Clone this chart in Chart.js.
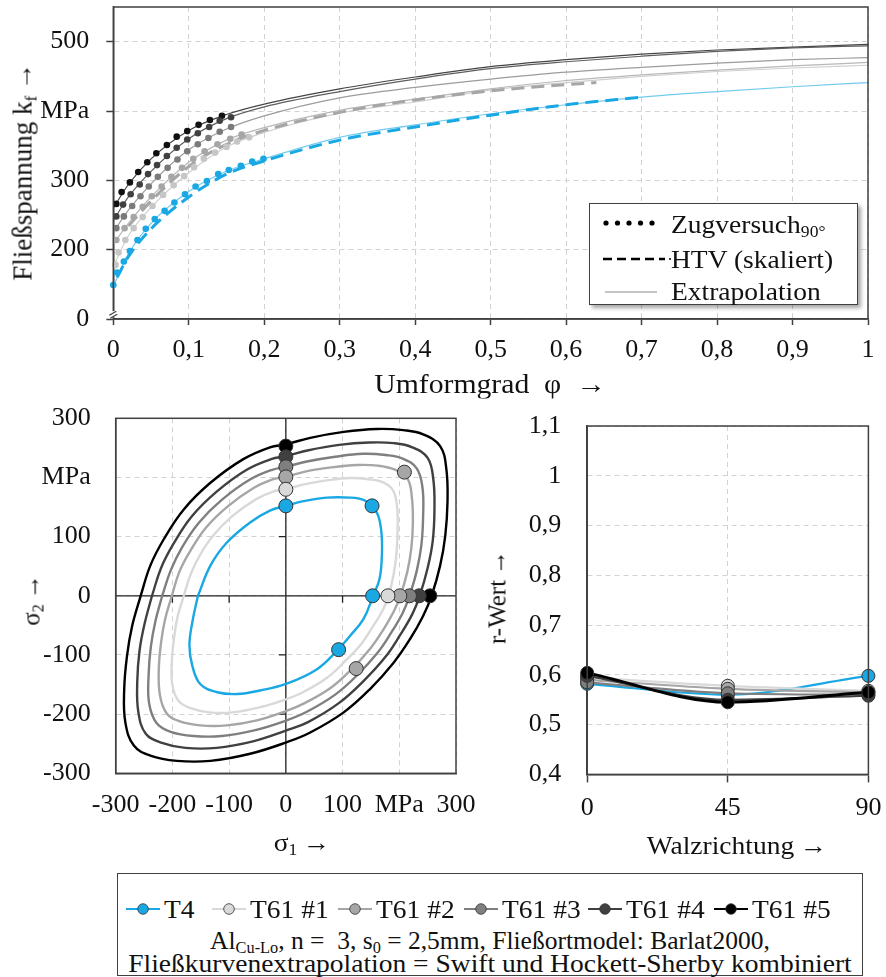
<!DOCTYPE html>
<html lang="de">
<head>
<meta charset="utf-8">
<title>Fließkurven, Fließorte und r-Werte</title>
<script src="https://cdn.jsdelivr.net/npm/chart.js@4.4.1/dist/chart.umd.min.js"></script>
<style>
  html, body { margin: 0; background: #fff; }
  #page { position: relative; width: 886px; height: 977px; overflow: hidden;
          font-family: 'Liberation Serif', 'Times New Roman', serif; color: #111; }
  #page canvas { position: absolute; }
  .lbl { position: absolute; white-space: nowrap; font-size: 25px; line-height: 1; }
  .mid { transform: translate(-50%, -50%) scaleX(1.1); }
  .up  { transform: translate(-50%, -50%) rotate(-90deg); }
  .lft { transform: translateY(-50%) scaleX(1.1); transform-origin: 0 50%; }
  sub { font-size: 0.64em; line-height: 0; vertical-align: -0.28em; }
  .box { position: absolute; background: #fff; border: 1.5px solid #404040; box-sizing: border-box; }
  .box svg { position: absolute; overflow: visible; }
</style>
</head>
<body>
<div id="page">
  <canvas id="flowChart" width="886" height="392" style="left:0;top:0"></canvas>
  <canvas id="locusChart" width="484" height="475" style="left:0;top:395px"></canvas>
  <canvas id="rChart" width="416" height="475" style="left:470px;top:395px"></canvas>

  <div class="lbl up" style="left:23px;top:172px;font-size:27px">Fließspannung k<sub>f</sub>&thinsp;→</div>
  <div class="lbl mid" style="left:490px;top:384px;font-size:27px">Umformgrad&ensp;φ&ensp;→</div>
  <div class="lbl up" style="left:31px;top:600px">σ<sub>2</sub>&thinsp;→</div>
  <div class="lbl mid" style="left:302px;top:842px">σ<sub>1</sub>&thinsp;→</div>
  <div class="lbl up" style="left:497px;top:597px">r-Wert&thinsp;→</div>
  <div class="lbl mid" style="left:737px;top:845px">Walzrichtung&thinsp;→</div>

  <div class="box" id="flowLegend" style="left:589px;top:203px;width:269px;height:102px;box-shadow:3px 3px 4px rgba(0,0,0,.35)">
    <svg style="left:14px;top:19px" width="50" height="1">
      <circle cx="2" cy="0" r="2.6" fill="#000"/><circle cx="13.5" cy="0" r="2.6" fill="#000"/>
      <circle cx="25" cy="0" r="2.6" fill="#000"/><circle cx="36.5" cy="0" r="2.6" fill="#000"/>
      <circle cx="48" cy="0" r="2.6" fill="#000"/>
    </svg>
    <div class="lbl lft" style="left:81px;top:20px">Zugversuch<sub>90°</sub></div>
    <svg style="left:13px;top:55px" width="66" height="1">
      <line x1="0" y1="0" x2="62" y2="0" stroke="#000" stroke-width="2.4" stroke-dasharray="9 5"/>
      <circle cx="67" cy="0" r="1" fill="#000"/>
    </svg>
    <div class="lbl lft" style="left:81px;top:55px">HTV (skaliert)</div>
    <svg style="left:15px;top:88px" width="52" height="1">
      <line x1="0" y1="0" x2="52" y2="0" stroke="#8c8c8c" stroke-width="1.2"/>
    </svg>
    <div class="lbl lft" style="left:81px;top:87px">Extrapolation</div>
  </div>

  <div class="box" id="mainLegend" style="left:117px;top:873px;width:746px;height:103px">
    <div class="lbl" style="left:372px;top:66px;transform:translate(-50%,-50%) scaleX(1.02)">Al<sub>Cu-Lo</sub>, n =&nbsp; 3, s<sub>0</sub> = 2,5mm, Fließortmodel: Barlat2000,</div>
    <div class="lbl mid" style="left:372px;top:89px">Fließkurvenextrapolation = Swift und Hockett-Sherby kombiniert</div>
  </div>
</div>

<script>
// Werkstoffzustände
const seriesNames = ['T4', 'T61 #1', 'T61 #2', 'T61 #3', 'T61 #4', 'T61 #5'];

// ---------- Fließkurven ----------
const phiTicks = [0, 0.1, 0.2, 0.3, 0.4, 0.5, 0.6, 0.7, 0.8, 0.9, 1];
const kfTicks = [100, 200, 300, 400, 500];
const kfTickLabels = ['0', '200', '300', 'MPa', '500'];

// Zugversuch 90° – Messpunkte
const phiZugT4 = [0, 0.005, 0.014, 0.022, 0.032, 0.043, 0.055, 0.068, 0.081, 0.095, 0.109, 0.124, 0.139, 0.153, 0.169, 0.184, 0.199];
const kfZugT4 = [149, 167, 183, 198, 214, 230, 244, 256, 268, 280, 291, 299, 309, 315, 321, 327, 331];
const phiZugT61_1 = [0.003, 0.007, 0.016, 0.027, 0.039, 0.052, 0.066, 0.08, 0.094, 0.107, 0.12, 0.135, 0.15, 0.164, 0.18];
const kfZugT61_1 = [178, 196, 214, 231, 247, 263, 279, 293, 306, 319, 331, 340, 348, 356, 362];
const phiZugT61_2 = [0.004, 0.015, 0.027, 0.039, 0.051, 0.064, 0.077, 0.091, 0.106, 0.121, 0.138, 0.155, 0.17];
const kfZugT61_2 = [214, 231, 247, 262, 277, 291, 305, 318, 331, 342, 352, 360, 366];
const phiZugT61_3 = [0.004, 0.014, 0.025, 0.036, 0.047, 0.059, 0.072, 0.085, 0.098, 0.112, 0.126, 0.141, 0.156];
const kfZugT61_3 = [231, 248, 263, 277, 291, 305, 318, 330, 342, 352, 361, 370, 377];
const phiZugT61_4 = [0.004, 0.013, 0.023, 0.035, 0.046, 0.058, 0.071, 0.084, 0.098, 0.112, 0.127, 0.141, 0.156];
const kfZugT61_4 = [248, 265, 280, 294, 309, 322, 335, 347, 359, 368, 377, 386, 391];
const phiZugT61_5 = [0.004, 0.011, 0.022, 0.033, 0.045, 0.057, 0.071, 0.084, 0.098, 0.113, 0.128, 0.144];
const kfZugT61_5 = [266, 283, 297, 312, 326, 339, 351, 363, 371, 380, 387, 393];

// HTV (skaliert)
const phiHtvT4 = [0.005, 0.02, 0.05, 0.1, 0.15, 0.2, 0.3, 0.4, 0.5, 0.6, 0.7];
const kfHtvT4 = [160, 190, 230, 276, 309, 328, 358, 377, 394, 409, 420];
const phiHtvT61_2 = [0.02, 0.05, 0.1, 0.15, 0.2, 0.3, 0.4, 0.5, 0.6, 0.64];
const kfHtvT61_2 = [234, 270, 320, 352, 372, 398, 416, 429, 438, 441];

// Extrapolation
const phiExtra = [0, 0.02, 0.05, 0.1, 0.15, 0.2, 0.3, 0.4, 0.5, 0.6, 0.7, 0.8, 0.9, 1];
const kfExtraT4 = [147, 194, 238, 284, 313, 331, 362, 380, 396, 409, 420, 428, 435, 441];
const kfExtraT61_1 = [176, 220, 261, 311, 348, 369, 397, 413, 430, 441, 450, 457, 462, 466];
const kfExtraT61_2 = [208, 238, 276, 326, 358, 376, 401, 417, 432, 444, 452, 459, 465, 470];
const kfExtraT61_3 = [225, 257, 295, 344, 374, 393, 419, 434, 446, 456, 463, 469, 474, 477];
const kfExtraT61_4 = [242, 276, 313, 360, 389, 406, 428, 446, 461, 471, 479, 486, 491, 494];
const kfExtraT61_5 = [260, 294, 331, 372, 395, 410, 432, 449, 464, 474, 482, 488, 492, 496];

// ---------- Fließorte (σ1, σ2 in MPa) ----------
const sigmaTicks = [-300, -200, -100, 0, 100, 200, 300];
const sigmaLabels = ['-300', '-200', '-100', '0', '100', 'MPa', '300'];

const locusT4 = [[-155, 0], [-133, 51], [-104, 90], [-63, 124], [-28, 144], [0, 152], [31, 160], [72, 166], [113, 166], [137, 162], [151, 152], [163, 135], [169, 101], [169, 62], [165, 28], [154, 0], [137, -39], [113, -68], [92, -91], [55, -124], [0, -149], [-45, -160], [-86, -166], [-121, -163], [-151, -149], [-165, -118], [-170, -84], [-165, -45], [-155, 0]];
const locusT61_1 = [[-180, 0], [-168, 36], [-152, 68], [-127, 103], [-94, 135], [-53, 163], [-20, 177], [0, 180], [30, 188], [72, 195], [113, 199], [146, 197], [171, 192], [189, 178], [196, 151], [197, 111], [195, 71], [190, 36], [181, 0], [171, -24], [154, -51], [134, -80], [104, -111], [72, -139], [30, -163], [0, -175], [-44, -188], [-94, -197], [-135, -197], [-168, -190], [-189, -178], [-200, -151], [-201, -111], [-197, -71], [-191, -36], [-180, 0]];
const locusT61_2 = [[-201, 0], [-188, 40], [-169, 75], [-141, 115], [-104, 150], [-59, 181], [-22, 197], [0, 201], [34, 210], [80, 217], [126, 221], [162, 220], [190, 214], [214, 199], [222, 168], [224, 124], [221, 79], [214, 40], [202, 0], [190, -27], [172, -57], [149, -89], [116, -124], [80, -155], [34, -181], [0, -195], [-49, -210], [-104, -219], [-151, -219], [-188, -212], [-210, -199], [-222, -168], [-224, -124], [-220, -79], [-213, -40], [-201, 0]];
const locusT61_3 = [[-218, 0], [-203, 43], [-183, 82], [-153, 124], [-113, 162], [-64, 196], [-24, 213], [0, 218], [37, 227], [87, 235], [136, 240], [176, 238], [206, 232], [231, 215], [241, 182], [242, 134], [239, 86], [231, 43], [218, 0], [206, -29], [186, -62], [162, -96], [126, -134], [87, -167], [37, -196], [0, -211], [-54, -227], [-113, -237], [-163, -237], [-203, -230], [-228, -215], [-241, -182], [-242, -134], [-238, -86], [-230, -43], [-218, 0]];
const locusT61_4 = [[-236, 0], [-220, 47], [-198, 88], [-166, 134], [-122, 176], [-69, 213], [-26, 231], [0, 236], [40, 246], [94, 255], [147, 259], [190, 258], [223, 251], [250, 233], [260, 197], [262, 145], [259, 93], [250, 47], [236, 0], [223, -31], [201, -67], [175, -104], [136, -145], [94, -181], [40, -213], [0, -228], [-58, -246], [-122, -257], [-177, -257], [-220, -248], [-247, -233], [-260, -197], [-262, -145], [-258, -93], [-249, -47], [-236, 0]];
const locusT61_5 = [[-256, 0], [-239, 51], [-215, 96], [-180, 146], [-133, 191], [-75, 231], [-28, 251], [0, 256], [43, 267], [102, 277], [160, 282], [207, 280], [242, 273], [272, 253], [283, 214], [285, 158], [281, 101], [272, 51], [257, 0], [242, -34], [219, -73], [190, -113], [148, -158], [102, -197], [43, -231], [0, -248], [-63, -267], [-133, -279], [-192, -279], [-239, -270], [-268, -253], [-283, -214], [-285, -158], [-280, -101], [-271, -51], [-256, 0]];

// Versuchspunkte auf den Fließorten
const locusPointsT4 = [[0, 152], [153, 0], [152, 152], [93, -91]];
const locusPointsT61_1 = [[0, 180], [180, 0]];
const locusPointsT61_2 = [[0, 201], [201, 0], [209, 209], [124, -123]];
const locusPointsT61_3 = [[0, 218], [218, 0]];
const locusPointsT61_4 = [[0, 235], [235, 0]];
const locusPointsT61_5 = [[0, 253], [254, 0]];

// ---------- r-Werte ----------
const angleTicks = [0, 45, 90];
const rTicks = [0.4, 0.5, 0.6, 0.7, 0.8, 0.9, 1, 1.1];
const rT4 = [0.582, 0.560, 0.598];
const rT61_1 = [0.595, 0.578, 0.568];
const rT61_2 = [0.590, 0.572, 0.565];
const rT61_3 = [0.585, 0.563, 0.560];
const rT61_4 = [0.598, 0.550, 0.558];
const rT61_5 = [0.604, 0.545, 0.565];

// Farben
const seriesColors = ['#19a8e3', '#d9d9d9', '#a6a6a6', '#7f7f7f', '#404040', '#000000'];
const dotColors = ['#19a8e3', '#c6c6c6', '#a6a6a6', '#7a7a7a', '#404040', '#111111'];
const extraColors = ['#72cbef', '#d0d0d0', '#b8b8b8', '#9c9c9c', '#5e5e5e', '#454545'];

Chart.defaults.font.family = "'Liberation Serif', 'Times New Roman', serif";
Chart.defaults.font.size = 26;
Chart.defaults.color = '#111';

const pts = (xs, ys) => xs.map((x, i) => ({ x: x, y: ys[i] }));
const pairs = list => list.map(p => ({ x: p[0], y: p[1] }));

// feste Achsenbreiten, damit die Plotflächen exakt sitzen
function pinY(width) {
    return s => { s.width = width; s.paddingTop = 0; s.paddingBottom = 0; };
}
function pinX(height) {
    return s => { s.height = height; s.paddingLeft = 0; s.paddingRight = 0; };
}
function setTicks(list) {
    return s => { s.ticks = list.map(v => ({ value: v })); };
}

const gridStyle = { color: '#d2d2d2', lineWidth: 1, tickColor: '#404040', tickWidth: 1.5, tickBorderDash: [] };
const borderStyle = { color: '#404040', width: 1.5, dash: [5, 4] };
const baseOptions = {
    responsive: false,
    animation: false,
    events: [],
    plugins: { legend: { display: false }, tooltip: { enabled: false } }
};

// Rahmen um die Plotfläche
const framePlugin = {
    id: 'frame',
    afterDraw(chart) {
        const { ctx, chartArea: a } = chart;
        ctx.save();
        ctx.strokeStyle = '#404040';
        ctx.lineWidth = 1.5;
        ctx.strokeRect(a.left, a.top, a.right - a.left, a.bottom - a.top);
        ctx.restore();
    }
};

// Achsenbruch unten an der kf-Achse
const axisBreak = {
    id: 'axisBreak',
    afterDraw(chart) {
        const { ctx } = chart;
        const x = chart.chartArea.left;
        const y = chart.scales.y.getPixelForValue(107);
        ctx.save();
        ctx.fillStyle = '#fff';
        ctx.fillRect(x - 3, y - 3, 6, 6);
        ctx.strokeStyle = '#404040';
        ctx.lineWidth = 1.2;
        ctx.beginPath();
        ctx.moveTo(x - 4, y + 1); ctx.lineTo(x + 3, y - 3);
        ctx.moveTo(x - 3, y + 4); ctx.lineTo(x + 4, y);
        ctx.stroke();
        ctx.restore();
    }
};

// Koordinatenachsen durch den Ursprung mit kleinen Strichen
const zeroAxes = {
    id: 'zeroAxes',
    beforeDatasetsDraw(chart) {
        const { ctx, chartArea: a, scales: { x, y } } = chart;
        const x0 = x.getPixelForValue(0);
        const y0 = y.getPixelForValue(0);
        ctx.save();
        ctx.strokeStyle = '#222';
        ctx.lineWidth = 1.3;
        ctx.beginPath();
        ctx.moveTo(x0, a.top); ctx.lineTo(x0, a.bottom);
        ctx.moveTo(a.left, y0); ctx.lineTo(a.right, y0);
        sigmaTicks.forEach(v => {
            if (v === 0 || Math.abs(v) === 300) return;
            const px = x.getPixelForValue(v);
            const py = y.getPixelForValue(v);
            ctx.moveTo(px, y0); ctx.lineTo(px, y0 + 7);
            ctx.moveTo(x0, py); ctx.lineTo(x0 - 7, py);
        });
        ctx.stroke();
        ctx.restore();
    }
};

// ---------- Diagramm 1: Fließkurven ----------
const flowSeries = [
    { zugPhi: phiZugT4, zugKf: kfZugT4, extra: kfExtraT4 },
    { zugPhi: phiZugT61_1, zugKf: kfZugT61_1, extra: kfExtraT61_1 },
    { zugPhi: phiZugT61_2, zugKf: kfZugT61_2, extra: kfExtraT61_2 },
    { zugPhi: phiZugT61_3, zugKf: kfZugT61_3, extra: kfExtraT61_3 },
    { zugPhi: phiZugT61_4, zugKf: kfZugT61_4, extra: kfExtraT61_4 },
    { zugPhi: phiZugT61_5, zugKf: kfZugT61_5, extra: kfExtraT61_5 }
];

const flowDatasets = [];
flowSeries.forEach((s, i) => {
    flowDatasets.push({
        label: seriesNames[i] + ' Extrapolation',
        data: pts(phiExtra, s.extra),
        showLine: true, borderColor: extraColors[i], borderWidth: 1.2,
        pointRadius: 0, cubicInterpolationMode: 'monotone', order: 3
    });
    flowDatasets.push({
        label: seriesNames[i] + ' Zugversuch',
        data: pts(s.zugPhi, s.zugKf),
        showLine: false, pointRadius: 3.3, pointBorderWidth: 0,
        pointBackgroundColor: dotColors[i], clip: false, order: 1
    });
});
flowDatasets.push({
    label: 'T4 HTV', data: pts(phiHtvT4, kfHtvT4),
    showLine: true, borderColor: seriesColors[0], borderWidth: 3, borderDash: [13, 7],
    pointRadius: 0, cubicInterpolationMode: 'monotone', order: 2
});
flowDatasets.push({
    label: 'T61 #2 HTV', data: pts(phiHtvT61_2, kfHtvT61_2),
    showLine: true, borderColor: seriesColors[2], borderWidth: 3, borderDash: [13, 7],
    pointRadius: 0, cubicInterpolationMode: 'monotone', order: 2
});

new Chart(document.getElementById('flowChart'), {
    type: 'scatter',
    data: { datasets: flowDatasets },
    options: Object.assign({}, baseOptions, {
        layout: { padding: { left: 0, top: 7, right: 18, bottom: 0 } },
        scales: {
            x: {
                type: 'linear', min: 0, max: 1,
                afterFit: pinX(73), afterBuildTicks: setTicks(phiTicks),
                grid: Object.assign({}, gridStyle, { tickLength: 6 }), border: borderStyle,
                ticks: { padding: 10, maxRotation: 0, autoSkip: false, callback: v => String(v).replace('.', ',') }
            },
            y: {
                type: 'linear', min: 100, max: 550,
                afterFit: pinY(113.3), afterBuildTicks: setTicks(kfTicks),
                grid: Object.assign({}, gridStyle, { tickLength: 7 }), border: borderStyle,
                ticks: { padding: 17, autoSkip: false, callback: (v, i) => kfTickLabels[i] }
            }
        }
    }),
    plugins: [framePlugin, axisBreak]
});

// ---------- Diagramm 2: Fließorte ----------
const loci = [locusT4, locusT61_1, locusT61_2, locusT61_3, locusT61_4, locusT61_5];
const lociPoints = [locusPointsT4, locusPointsT61_1, locusPointsT61_2, locusPointsT61_3, locusPointsT61_4, locusPointsT61_5];

const locusDatasets = [];
loci.forEach((curve, i) => {
    locusDatasets.push({
        label: seriesNames[i],
        data: pairs(curve),
        showLine: true, borderColor: seriesColors[i], borderWidth: 2.4,
        pointRadius: 0, tension: 0.4, order: 2 + (5 - i)
    });
});
lociPoints.forEach((list, i) => {
    locusDatasets.push({
        label: seriesNames[i] + ' Versuch',
        data: pairs(list),
        showLine: false, pointRadius: 7, pointBorderWidth: 1,
        pointBorderColor: '#333', pointBackgroundColor: seriesColors[i],
        clip: false, order: i === 0 ? 0 : 1
    });
});

new Chart(document.getElementById('locusChart'), {
    type: 'scatter',
    data: { datasets: locusDatasets },
    options: Object.assign({}, baseOptions, {
        layout: { padding: { left: 0, top: 23.3, right: 28, bottom: 0 } },
        scales: {
            x: {
                type: 'linear', min: -300, max: 300,
                afterFit: pinX(96.7), afterBuildTicks: setTicks(sigmaTicks),
                grid: Object.assign({}, gridStyle, { drawTicks: false }), border: borderStyle,
                ticks: { padding: 16, maxRotation: 0, autoSkip: false, callback: (v, i) => sigmaLabels[i] }
            },
            y: {
                type: 'linear', min: -300, max: 300,
                afterFit: pinY(115.7), afterBuildTicks: setTicks(sigmaTicks),
                grid: Object.assign({}, gridStyle, { drawTicks: false }), border: borderStyle,
                ticks: { padding: 25, autoSkip: false, callback: (v, i) => sigmaLabels[i] }
            }
        }
    }),
    plugins: [framePlugin, zeroAxes]
});

// ---------- Diagramm 3: r-Werte ----------
const rSeries = [rT4, rT61_1, rT61_2, rT61_3, rT61_4, rT61_5];
const rDatasets = rSeries.map((vals, i) => ({
    label: seriesNames[i],
    data: pts(angleTicks, vals),
    showLine: true, borderColor: seriesColors[i], borderWidth: i === 5 ? 3 : 2.2,
    cubicInterpolationMode: 'monotone',
    pointRadius: 6.5, pointBorderWidth: 1, pointBorderColor: '#333',
    pointBackgroundColor: seriesColors[i], clip: false,
    order: i === 0 ? 6 : 6 - i
}));

new Chart(document.getElementById('rChart'), {
    type: 'scatter',
    data: { datasets: rDatasets },
    options: Object.assign({}, baseOptions, {
        layout: { padding: { left: 0, top: 31, right: 17.6, bottom: 0 } },
        scales: {
            x: {
                type: 'linear', min: 0, max: 90,
                afterFit: pinX(95.6), afterBuildTicks: setTicks(angleTicks),
                grid: Object.assign({}, gridStyle, { tickLength: 8 }), border: borderStyle,
                ticks: { padding: 10, maxRotation: 0, autoSkip: false }
            },
            y: {
                type: 'linear', min: 0.4, max: 1.1,
                afterFit: pinY(117.2), afterBuildTicks: setTicks(rTicks),
                grid: Object.assign({}, gridStyle, { drawTicks: false }), border: borderStyle,
                ticks: { padding: 26, autoSkip: false, callback: v => String(v).replace('.', ',') }
            }
        }
    }),
    plugins: [framePlugin]
});

// ---------- Legende unten ----------
const legendBox = document.getElementById('mainLegend');
const legendSlots = [25, 111, 237, 363, 487, 613];
seriesNames.forEach((name, i) => {
    const cx = legendSlots[i];
    const icon = document.createElementNS('http://www.w3.org/2000/svg', 'svg');
    icon.setAttribute('width', '34');
    icon.setAttribute('height', '14');
    icon.style.left = (cx - 17) + 'px';
    icon.style.top = '28px';
    icon.innerHTML =
        '<line x1="0" y1="7" x2="34" y2="7" stroke="' + seriesColors[i] + '" stroke-width="2"/>' +
        '<circle cx="17" cy="7" r="5.3" fill="' + seriesColors[i] + '" stroke="#333" stroke-width="0.8"/>';
    legendBox.appendChild(icon);
    const text = document.createElement('div');
    text.className = 'lbl lft';
    text.style.left = (cx + 21) + 'px';
    text.style.top = '35px';
    text.textContent = name;
    legendBox.appendChild(text);
});
</script>
</body>
</html>
